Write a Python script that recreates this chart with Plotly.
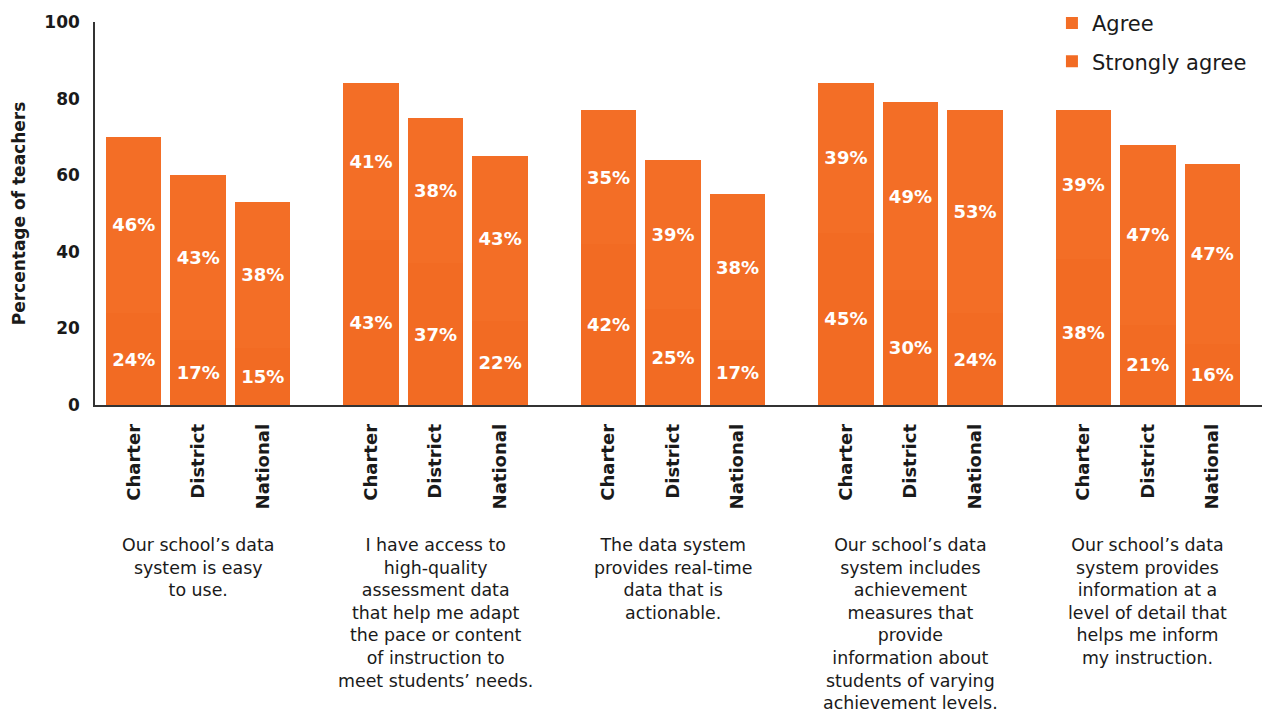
import plotly.graph_objects as go

# Survey statements (one group of bars each)
statements = [
    "Our school\u2019s data<br>system is easy<br>to use.",
    "I have access to<br>high-quality<br>assessment data<br>that help me adapt<br>the pace or content<br>of instruction to<br>meet students\u2019 needs.",
    "The data system<br>provides real-time<br>data that is<br>actionable.",
    "Our school\u2019s data<br>system includes<br>achievement<br>measures that<br>provide<br>information about<br>students of varying<br>achievement levels.",
    "Our school\u2019s data<br>system provides<br>information at a<br>level of detail that<br>helps me inform<br>my instruction.",
]
school_types = ["Charter", "District", "National"]

# Percent of teachers, per statement, ordered Charter / District / National
strongly_agree = [
    [24, 17, 15],
    [43, 37, 22],
    [42, 25, 17],
    [45, 30, 24],
    [38, 21, 16],
]
agree = [
    [46, 43, 38],
    [41, 38, 43],
    [35, 39, 38],
    [39, 49, 53],
    [39, 47, 47],
]

y_ticks = [0, 20, 40, 60, 80, 100]

GROUP_STEP = 3.68
FONT = "DejaVu Sans"
TEXT_DARK = "#1a1a1a"

xs, labels, sa_vals, ag_vals = [], [], [], []
group_centers = []
for g, stmt in enumerate(statements):
    group_centers.append(g * GROUP_STEP + 1)
    for k, st in enumerate(school_types):
        xs.append(g * GROUP_STEP + k)
        labels.append(st)
        sa_vals.append(strongly_agree[g][k])
        ag_vals.append(agree[g][k])

label_font = dict(color="white", size=18, family=FONT, weight="bold")

fig = go.Figure()
fig.add_trace(go.Bar(
    x=xs, y=sa_vals, name="Strongly agree", width=0.86,
    marker=dict(color="#F26B23", line=dict(width=0)),
    text=[f"{v}%" for v in sa_vals], textposition="inside",
    insidetextanchor="middle", textfont=label_font,
    legendgroup="sa", legendrank=2,
))
fig.add_trace(go.Bar(
    x=xs, y=ag_vals, name="Agree", width=0.86,
    marker=dict(color="#F36E26", line=dict(width=0)),
    text=[f"{v}%" for v in ag_vals], textposition="inside",
    insidetextanchor="middle", textfont=label_font,
    legendgroup="ag", legendrank=1,
))

for cx, stmt in zip(group_centers, statements):
    fig.add_annotation(
        x=cx, y=-0.333, xref="x", yref="paper",
        text=stmt, showarrow=False, xanchor="center", yanchor="top",
        align="center", font=dict(size=17.4, family=FONT, color=TEXT_DARK),
    )

fig.update_layout(
    width=1262, height=715,
    margin=dict(l=95, r=0, t=22, b=310),
    barmode="stack",
    plot_bgcolor="white", paper_bgcolor="white",
    font=dict(family=FONT, color=TEXT_DARK),
    showlegend=True,
    legend=dict(
        x=0.82, y=1.05, xanchor="left", yanchor="top",
        traceorder="grouped", tracegroupgap=8,
        font=dict(size=21, family=FONT, color=TEXT_DARK),
        bgcolor="rgba(0,0,0,0)", itemwidth=30,
    ),
    xaxis=dict(
        range=[-0.6, 17.49],
        tickmode="array", tickvals=xs, ticktext=labels,
        tickangle=-90, tickfont=dict(size=18, family=FONT, weight="bold", color=TEXT_DARK),
        showline=True, linecolor="#333333", linewidth=1.5,
        showgrid=False, zeroline=False, ticks="", ticklabelstandoff=10,
    ),
    yaxis=dict(
        range=[0, 100], tickvals=y_ticks,
        tickfont=dict(size=17, family=FONT, weight="bold", color=TEXT_DARK),
        showline=True, linecolor="#333333", linewidth=1.5,
        showgrid=False, zeroline=False, ticks="", ticklabelstandoff=10,
        title=dict(text="Percentage of teachers", standoff=14,
                   font=dict(size=17, family=FONT, weight="bold", color=TEXT_DARK)),
    ),
)

fig.write_html("out.html")
